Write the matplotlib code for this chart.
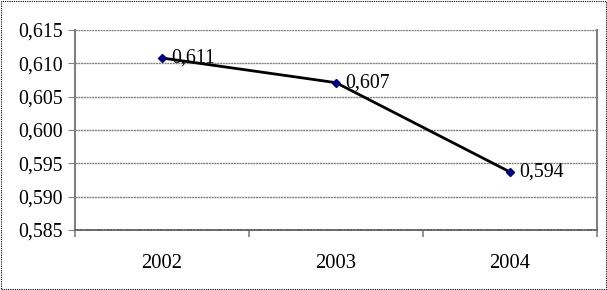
import matplotlib
matplotlib.use("Agg")
import matplotlib.pyplot as plt
from matplotlib.patches import Rectangle

years = ["2002", "2003", "2004"]
values = [0.6108, 0.6071, 0.5937]
labels = ["0,611", "0,607", "0,594"]
yticks = [0.585, 0.590, 0.595, 0.600, 0.605, 0.610, 0.615]

plt.rcParams['font.family'] = ['Liberation Serif', 'DejaVu Serif']

fig = plt.figure(figsize=(6.07, 2.90), dpi=100)
ax = fig.add_axes([75/607, 1 - 230/290, (597-75)/607, 200/290])

x = list(range(len(years)))
ax.plot(x, values, color='black', lw=2, marker='D', ms=4.5,
        mfc='#000080', mec='#000080', zorder=3)
for xi, v, lab in zip(x, values, labels):
    ax.annotate(lab, (xi, v), xytext=(7, 0), textcoords='offset points',
                va='center', ha='left', fontsize=14.3, zorder=4)

ax.set_xlim(-0.5, 2.5)
ax.set_ylim(0.585, 0.615)
ax.set_yticks(yticks)
ax.set_yticklabels([f"{t:.3f}".replace('.', ',') for t in yticks], fontsize=14.3)
ax.set_xticks(x)
ax.set_xticklabels(years, fontsize=14.8)
ax.set_xticks([-0.5, 0.5, 1.5, 2.5], minor=True)
ax.tick_params(axis='x', which='major', length=0, pad=17)
ax.tick_params(axis='x', which='minor', length=5, color='#808080', width=1.2)
ax.tick_params(axis='y', length=5, color='#808080', pad=4)
ax.grid(axis='y', color='#808080', lw=1, ls=(0, (1.5, 0.5)))
for s in ['top']:
    ax.spines[s].set_visible(False)
ax.spines['left'].set_color('#808080')
ax.spines['left'].set_linewidth(1.5)
ax.spines['right'].set_color('#808080')
ax.spines['right'].set_linewidth(1.5)
ax.spines['bottom'].set_color('#606060')
ax.spines['bottom'].set_linewidth(1.2)
ax.spines['bottom'].set_linestyle((0, (1.5, 0.5)))

fig.patches.append(Rectangle((0.001, 0.002), 0.997, 0.995, transform=fig.transFigure,
                             fill=False, ec='black', lw=0.8, ls=(0, (1, 1))))

fig.savefig("out.png", dpi=100)
